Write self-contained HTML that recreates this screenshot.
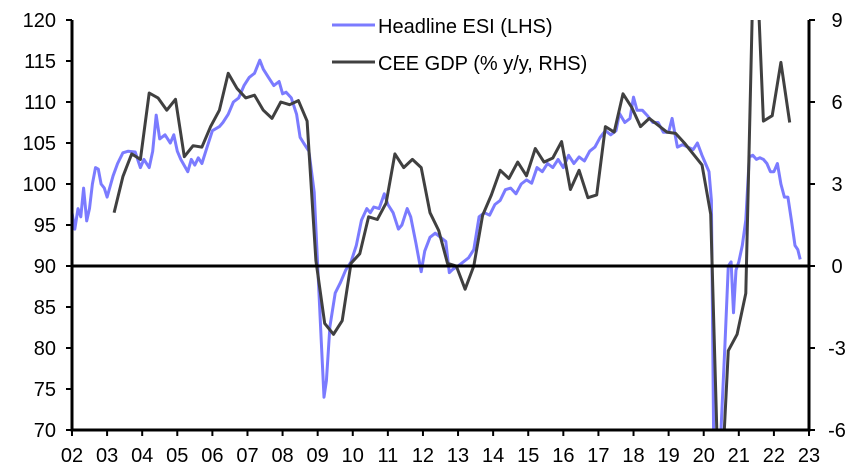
<!DOCTYPE html>
<html><head><meta charset="utf-8"><style>
html,body{margin:0;padding:0;background:#fff;overflow:hidden;width:866px;height:473px;}
svg{display:block;}
svg text{font-family:"Liberation Sans",Arial,sans-serif;font-size:20px;fill:#000;}
</style></head><body>
<svg id="chart" width="866" height="473" xmlns="http://www.w3.org/2000/svg">
<defs><clipPath id="plotclip"><rect x="72" y="20" width="737" height="410"/></clipPath></defs>
<g id="series" clip-path="url(#plotclip)"></g>
<g id="axes"></g>
<g id="legend">
<line x1="332" y1="25" x2="375" y2="25" stroke="#7b7bff" stroke-width="3"/>
<text x="378" y="33">Headline ESI (LHS)</text>
<line x1="332" y1="62" x2="375" y2="62" stroke="#404040" stroke-width="3"/>
<text x="378" y="70">CEE GDP (% y/y, RHS)</text>
</g>
</svg>
<script>
const esiDates=[
2002.0,2002.08,2002.17,2002.25,2002.33,2002.42,2002.5,2002.58,2002.67,2002.75,2002.83,2002.92,
2003.0,2003.17,2003.3,2003.45,2003.6,2003.8,2003.95,
2004.05,2004.2,2004.3,2004.4,2004.5,2004.65,2004.8,2004.9,
2005.0,2005.1,2005.3,2005.4,2005.5,2005.6,2005.7,2005.85,
2006.0,2006.2,2006.3,2006.45,2006.6,2006.75,2006.9,
2007.05,2007.2,2007.35,2007.45,2007.6,2007.75,2007.9,
2008.0,2008.1,2008.25,2008.4,2008.5,2008.6,2008.75,2008.9,
2009.0,2009.1,2009.18,2009.25,2009.35,2009.5,2009.65,2009.8,2009.95,
2010.1,2010.25,2010.4,2010.5,2010.6,2010.75,2010.9,
2011.0,2011.15,2011.3,2011.4,2011.55,2011.65,2011.8,2011.95,
2012.05,2012.2,2012.35,2012.5,2012.65,2012.75,2012.85,
2013.0,2013.15,2013.3,2013.45,2013.6,2013.75,2013.9,
2014.05,2014.2,2014.35,2014.5,2014.65,2014.8,2014.95,
2015.1,2015.25,2015.4,2015.55,2015.7,2015.85,
2016.0,2016.15,2016.3,2016.45,2016.6,2016.75,2016.9,
2017.05,2017.2,2017.35,2017.5,2017.6,2017.75,2017.9,
2018.0,2018.1,2018.25,2018.4,2018.55,2018.7,2018.85,
2019.0,2019.1,2019.25,2019.4,2019.55,2019.7,2019.82,2019.95,
2020.05,2020.15,2020.22,2020.3,2020.4,2020.5,2020.6,2020.7,2020.78,2020.85,2020.92,
2021.0,2021.1,2021.2,2021.3,2021.4,2021.5,2021.6,2021.7,2021.8,2021.9,
2022.0,2022.1,2022.2,2022.3,2022.4,2022.5,2022.6,2022.68,2022.75];
const esiValues=[
96.5,94.5,97,96,99.5,95.5,97,100,102,101.8,100,99.5,
98.4,101,102.5,103.8,104,103.9,102,
103,102,104,108.4,105.5,106,105,106,
104,103,101.5,103,102.3,103.2,102.5,104.5,
106.5,107,107.5,108.5,110,110.5,112,
113,113.5,115.1,114,113,112,112.5,
111,111.2,110.5,108.5,105.7,105,104,99,
90,81,74,76,82.6,86.7,88,89.5,90.5,
92.5,95.6,97,96.5,97.2,97,98.8,
97.5,96.5,94.5,95,97,96,92.8,89.3,
91.8,93.5,94,93.5,93,89.2,89.6,
90,90.5,91,92,96,96.5,96.2,
97.5,98,99.3,99.5,98.8,100,100.5,
100.1,102,101.5,102.5,102,103,
102,103.5,102.5,103.3,102.8,104,104.5,
105.7,106.5,106,106.5,108.6,107.5,108,
110.6,109,109,108.3,107.5,107.5,106.3,
106.3,108,104.5,104.8,104.5,104.2,105,103.5,
102.5,101.5,98,62,60,70.8,80,90,90.5,84.3,89.5,
90.5,92.5,95.6,103.3,103.5,103,103.2,103,102.5,101.5,
101.5,102.5,100,98.4,98.4,95.5,92.5,92,90.8];
const gdpQuarters=["2003Q1","2003Q2","2003Q3","2003Q4","2004Q1","2004Q2","2004Q3","2004Q4","2005Q1","2005Q2","2005Q3","2005Q4","2006Q1","2006Q2","2006Q3","2006Q4","2007Q1","2007Q2","2007Q3","2007Q4","2008Q1","2008Q2","2008Q3","2008Q4","2009Q1","2009Q2","2009Q3","2009Q4","2010Q1","2010Q2","2010Q3","2010Q4","2011Q1","2011Q2","2011Q3","2011Q4","2012Q1","2012Q2","2012Q3","2012Q4","2013Q1","2013Q2","2013Q3","2013Q4","2014Q1","2014Q2","2014Q3","2014Q4","2015Q1","2015Q2","2015Q3","2015Q4","2016Q1","2016Q2","2016Q3","2016Q4","2017Q1","2017Q2","2017Q3","2017Q4","2018Q1","2018Q2","2018Q3","2018Q4","2019Q1","2019Q2","2019Q3","2019Q4","2020Q1","2020Q2","2020Q3","2020Q4","2021Q1","2021Q2","2021Q3","2021Q4","2022Q1","2022Q2"];
const gdpValues=[1.95,3.27,4.1,3.9,6.33,6.15,5.7,6.1,4.0,4.4,4.35,5.1,5.7,7.05,6.5,6.15,6.25,5.7,5.4,6.0,5.9,6.05,5.3,0.2,-2.1,-2.5,-2.0,0.1,0.45,1.8,1.7,2.3,4.1,3.6,3.9,3.6,1.95,1.3,0.1,0.0,-0.85,0.0,1.85,2.6,3.5,3.2,3.8,3.3,4.3,3.8,3.95,4.55,2.8,3.5,2.5,2.6,5.1,4.9,6.3,5.8,5.1,5.4,5.15,4.9,4.85,4.5,4.1,3.7,1.9,-9.5,-3.1,-2.5,-1.0,13,5.3,5.5,7.45,5.25];
const leftTicks=[70,75,80,85,90,95,100,105,110,115,120];
const rightTicks=[-6,-3,0,3,6,9];
const yearLabels=["02","03","04","05","06","07","08","09","10","11","12","13","14","15","16","17","18","19","20","21","22","23"];

const NS="http://www.w3.org/2000/svg";
const X0=72,X1=809,Y0=430,Y1=20;
function xScale(yr){return X0+(yr-2002)*(X1-X0)/21;}
function yLeft(v){return Y0-(v-70)*(Y0-Y1)/50;}
function yRight(v){return Y0-(v+6)*(Y0-Y1)/15;}
function quarterToYear(q){return parseInt(q.slice(0,4))+(parseInt(q.slice(5))-1)*0.25+0.2;}
function mk(tag,attrs,parent){const e=document.createElementNS(NS,tag);for(const k in attrs)e.setAttribute(k,attrs[k]);parent.appendChild(e);return e;}

const series=document.getElementById('series');
const axes=document.getElementById('axes');

let d=esiValues.map((v,i)=>(i?'L':'M')+xScale(esiDates[i]).toFixed(1)+' '+yLeft(v).toFixed(1)).join(' ');
const esi=mk('path',{d:d,fill:'none',stroke:'#7b7bff','stroke-width':3,'stroke-linejoin':'round'},series);



d=gdpValues.map((v,i)=>(i?'L':'M')+xScale(quarterToYear(gdpQuarters[i])).toFixed(1)+' '+yRight(v).toFixed(1)).join(' ');
const gdp=mk('path',{d:d,fill:'none',stroke:'#404040','stroke-width':3,'stroke-linejoin':'round'},series);



const zl=mk('line',{x1:X0,x2:X1,y1:yLeft(90),y2:yLeft(90),stroke:'#000','stroke-width':3},axes);



const la=mk('line',{x1:X0,x2:X0,y1:Y1,y2:Y0+1.5,stroke:'#000','stroke-width':3},axes);


const ra=mk('line',{x1:X1,x2:X1,y1:Y1,y2:Y0+1.5,stroke:'#000','stroke-width':3},axes);


const ba=mk('line',{x1:X0,x2:X1,y1:Y0,y2:Y0,stroke:'#000','stroke-width':3},axes);



leftTicks.forEach(v=>{
  const y=yLeft(v);
  mk('line',{x1:X0-6,x2:X0,y1:y,y2:y,stroke:'#000','stroke-width':2},axes);
  const t=mk('text',{x:X0-16,y:y+7,'text-anchor':'end'},axes);
  t.textContent=v;
  
  
});
rightTicks.forEach(v=>{
  const y=yRight(v);
  mk('line',{x1:X1,x2:X1+6,y1:y,y2:y,stroke:'#000','stroke-width':2},axes);
  const t=mk('text',{x:X1+28,y:y+7,'text-anchor':'middle'},axes);
  t.textContent=v;
  
  
});
yearLabels.forEach((lab,i)=>{
  const x=xScale(2002+i);
  mk('line',{x1:x,x2:x,y1:Y0,y2:Y0+6,stroke:'#000','stroke-width':2},axes);
  const t=mk('text',{x:x,y:Y0+32,'text-anchor':'middle'},axes);
  t.textContent=lab;
  
  
});
</script>
</body></html>
